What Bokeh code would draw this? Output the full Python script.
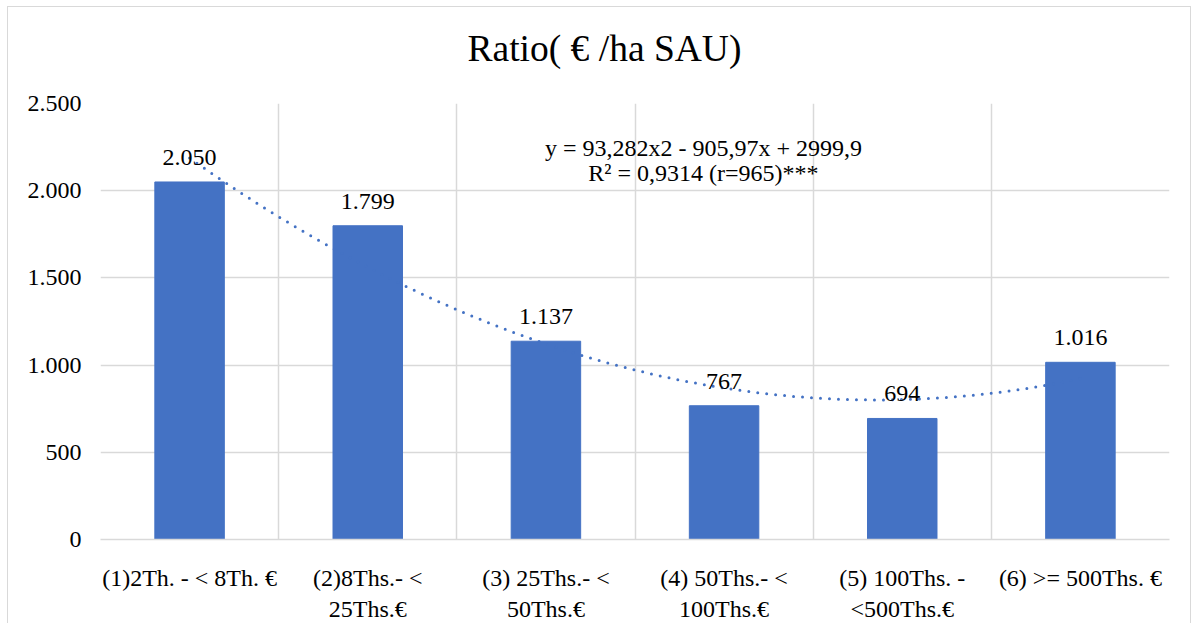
import numpy as np
from bokeh.plotting import figure
from bokeh.models import ColumnDataSource, FixedTicker, Range1d, Label, LabelSet, Title
from bokeh.embed import file_html
from bokeh.resources import INLINE
from bokeh.core.properties import value

# ---- data ----
categories = ["(1)2Th. - < 8Th. €", "(2)8Ths.- <\n25Ths.€", "(3) 25Ths.- <\n50Ths.€",
              "(4) 50Ths.- <\n100Ths.€", "(5) 100Ths. -\n<500Ths.€", "(6) >= 500Ths. €"]
values = [2050, 1799, 1137, 767, 694, 1016]
value_labels = ["2.050", "1.799", "1.137", "767", "694", "1.016"]
y_ticks = [0, 500, 1000, 1500, 2000, 2500]
y_tick_labels = ["0", "500", "1.000", "1.500", "2.000", "2.500"]
title_text = "Ratio( € /ha SAU)"
trend_line1 = "y = 93,282x2 - 905,97x + 2999,9"
trend_line2 = "R² = 0,9314 (r=965)***"

FONT = "Liberation Serif"
BLUE = "#4472C4"
GRID = "#D9D9D9"

xs = list(range(1, len(categories) + 1))
src = ColumnDataSource(dict(x=xs, top=values, lab=value_labels))

p = figure(width=1184, height=617, output_backend="svg", toolbar_location=None, title=None,
           x_range=Range1d(0.5, len(categories) + 0.5), y_range=Range1d(0, 2500),
           min_border_left=92, min_border_right=23, min_border_top=96, min_border_bottom=80)
p.styles = {"margin-left": "7px", "margin-top": "6px",
            "border-left": "1px solid #D9D9D9", "border-top": "1px solid #D9D9D9",
            "border-right": "1px solid #D9D9D9"}
p.outline_line_color = None
p.background_fill_color = "white"

# spacer between frame and title, then the chart title (left edge placed so it is centred on the chart)
p.add_layout(Title(text=" ", text_font_size="1px", standoff=27), "above")
p.add_layout(Title(text=title_text, align="left", offset=367, standoff=10, text_font=FONT,
                   text_font_size="37.5px", text_font_style="normal", text_color="black"), "above")

p.vbar(x="x", top="top", width=0.39, color=BLUE, source=src)

# polynomial trendline fitted to the data
coef = np.polyfit(xs, values, 2)
xx = np.linspace(xs[0], xs[-1], 300)
p.line(xx, np.polyval(coef, xx), line_color=BLUE, line_width=3, line_dash="0 9", line_cap="round")

p.add_layout(LabelSet(x="x", y="top", text="lab", source=src, text_align="center",
                      text_baseline="alphabetic", y_offset=17, text_font=value(FONT),
                      text_font_size="24px", text_color="black"))

p.add_layout(Label(x=3.884, y=2242, text=trend_line1, text_align="center", text_baseline="alphabetic",
                   text_font=FONT, text_font_size="24px", text_color="black"))
p.add_layout(Label(x=3.884, y=2099, text=trend_line2, text_align="center", text_baseline="alphabetic",
                   text_font=FONT, text_font_size="24px", text_color="black"))

# axes
p.xaxis.ticker = FixedTicker(ticks=xs)
p.xaxis.major_label_overrides = {x: c for x, c in zip(xs, categories)}
p.xaxis.major_tick_line_color = None
p.xaxis.minor_tick_line_color = None
p.xaxis.major_tick_out = 0
p.xaxis.major_tick_in = 0
p.xaxis.axis_line_color = GRID
p.xaxis.axis_line_width = 1.5
p.xaxis.major_label_standoff = 25
p.xaxis.major_label_text_font = FONT
p.xaxis.major_label_text_font_size = "24px"
p.xaxis.major_label_text_color = "black"

p.yaxis.ticker = FixedTicker(ticks=y_ticks)
p.yaxis.major_label_overrides = {t: l for t, l in zip(y_ticks, y_tick_labels)}
p.yaxis.major_tick_line_color = None
p.yaxis.minor_tick_line_color = None
p.yaxis.major_tick_out = 0
p.yaxis.major_tick_in = 0
p.yaxis.axis_line_color = None
p.yaxis.major_label_standoff = 19
p.yaxis.major_label_text_font = FONT
p.yaxis.major_label_text_font_size = "24px"
p.yaxis.major_label_text_color = "black"

p.xgrid.ticker = FixedTicker(ticks=[x - 0.5 for x in xs] + [xs[-1] + 0.5])
p.ygrid.ticker = FixedTicker(ticks=y_ticks)
p.xgrid.grid_line_color = GRID
p.ygrid.grid_line_color = GRID
p.xgrid.grid_line_width = 1.5
p.ygrid.grid_line_width = 1.5

open("out.html", "w").write(file_html(p, INLINE))
